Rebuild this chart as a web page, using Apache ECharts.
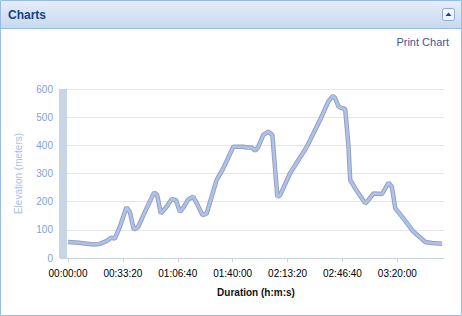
<!DOCTYPE html>
<html><head><meta charset="utf-8">
<script src="https://cdn.jsdelivr.net/npm/echarts@6/dist/echarts.min.js"></script>
<style>html,body{margin:0;padding:0;background:#fff;}#c{width:462px;height:316px;}</style>
</head><body><div id="c"></div>
<script>
// Duration in seconds
var times = [0,400,913,1150,1400,1584,1705,1887,2131,2250,2398,2555,2861,3139,3249,3384,3592,3774,3931,4077,4223,4380,4562,4709,4906,5052,5417,5658,6023,6388,6512,6700,6815,6935,7118,7300,7446,7629,7730,8092,8702,9187,9490,9650,9730,9855,9979,10100,10220,10282,10465,10830,10950,11133,11439,11680,11800,11925,12228,12593,13020,13260,13629];
// Elevation in meters
var elevations = [57,54,48,50,60,72,69,110,180,164,101,110,176,233,223,158,182,209,206,164,182,208,217,191,152,158,277,318,395,395,392,392,381,395,437,449,437,217,223,301,395,491,556,576,568,538,532,529,396,277,247,194,206,229,227,267,253,176,140,93,57,53,51];
var xTicks = [0,2000,4000,6000,8000,10000,12000];
var yTicks = [0,100,200,300,400,500,600];

function hms(v){
  var h=Math.floor(v/3600), m=Math.floor((v%3600)/60), s=Math.round(v%60);
  function p(n){return (n<10?'0':'')+n;}
  return p(h)+':'+p(m)+':'+p(s);
}
var pts = times.map(function(t,i){return [t, elevations[i]];});
var font = 'Liberation Sans';
var chart = echarts.init(document.getElementById('c'), null, {renderer:'svg'});
chart.setOption({
  animation:false,
  grid:{left:68, right:18, top:89, bottom:58},
  xAxis:{
    type:'value', min:0, max:13700,
    name:'Duration (h:m:s)', nameLocation:'middle', nameGap:29,
    nameTextStyle:{color:'#111', fontWeight:'bold', fontSize:10, fontFamily:font},
    axisLine:{show:true, lineStyle:{color:'#c6d3e2', width:1}},
    axisTick:{show:true, length:4, lineStyle:{color:'#c6d3e2'}, customValues:xTicks},
    axisLabel:{color:'#000', fontSize:10, fontFamily:font, margin:10, customValues:xTicks, formatter:function(v){return hms(v);}},
    splitLine:{show:false}
  },
  yAxis:{
    type:'value', min:0, max:600, interval:100, offset:10,
    name:'Elevation (meters)', nameLocation:'middle', nameGap:35, nameRotate:90,
    nameTextStyle:{color:'#a9c1e6', fontSize:10, fontFamily:font},
    axisLine:{show:false},
    axisTick:{show:true, length:8, lineStyle:{color:'#c6d3e2'}},
    axisLabel:{color:'#7f9fd2', fontSize:10, fontFamily:font, margin:5},
    splitLine:{show:true, lineStyle:{color:'#e6e6e6', width:1}}
  },
  graphic:[
    {type:'rect', shape:{x:0.5,y:0.5,width:461,height:315}, style:{fill:'none', stroke:'#99bbe8', lineWidth:1}, z:100},
    {type:'rect', shape:{x:1,y:1,width:460,height:27}, style:{fill:new echarts.graphic.LinearGradient(0,0,0,1,[{offset:0,color:'#e6eef9'},{offset:0.5,color:'#d6e3f3'},{offset:1,color:'#c8d9ef'}])}, z:100},
    {type:'line', shape:{x1:1,y1:28.5,x2:461,y2:28.5}, style:{stroke:'#99bbe8', lineWidth:1}, z:101},
    {type:'text', x:8, y:15, style:{text:'Charts', fill:'#15428b', font:'bold 12px "Liberation Sans"', textVerticalAlign:'middle'}, z:102},
    {type:'rect', shape:{x:442.5,y:8.5,width:12,height:12,r:2}, style:{fill:'#f3f7fd', stroke:'#8eacd8', lineWidth:1}, z:102},
    {type:'polygon', shape:{points:[[445.5,16],[451.5,16],[448.5,12.5]]}, style:{fill:'#15428b'}, z:103},
    {type:'text', x:449, y:42, style:{text:'Print Chart', fill:'#3a5a98', font:'11px "Liberation Sans"', textAlign:'right', textVerticalAlign:'middle'}, z:102},
    {type:'rect', shape:{x:59,y:89,width:8,height:169}, style:{fill:'#c8d5e4'}, z:50}
  ],
  series:[
    {type:'line', data:pts, symbol:'none', silent:true, z:2,
     lineStyle:{color:'#7d87a2', width:4.5, opacity:0.8}},
    {type:'line', data:pts, symbol:'none', silent:true, z:3,
     lineStyle:{color:'#adc3ee', width:2.6}}
  ]
});
</script></body></html>
